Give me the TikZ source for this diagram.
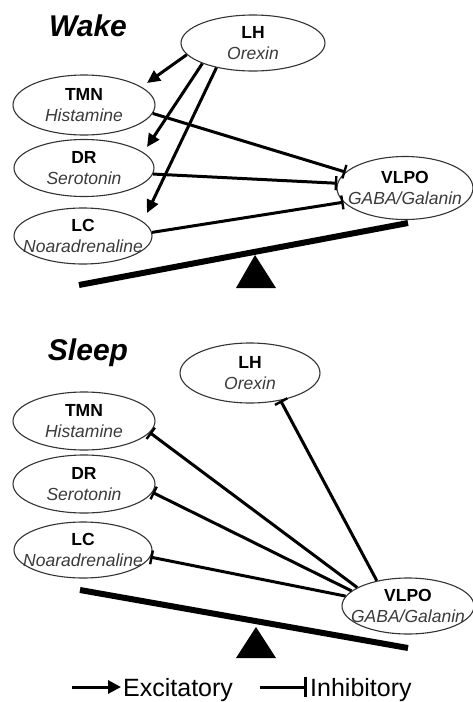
\documentclass[tikz,border=0pt]{standalone}
\usepackage{fontspec}
\setmainfont{Liberation Sans}
\usetikzlibrary{arrows.meta,shapes.geometric,calc}
\definecolor{subtxt}{HTML}{3A3A3A}
\begin{document}
\begin{tikzpicture}[x=1pt,y=-1pt,
  ellip/.style={ellipse,draw=black!80,line width=1.1pt,inner sep=0pt},
  lbl/.style={align=center,inner sep=0pt,font=\fontsize{17.5}{21}\selectfont},
  exc/.style={line width=3pt,-{Triangle[length=13pt,width=12pt]}},
  inh/.style={line width=3pt,-{Bar[width=14pt,line width=2.4pt]}},
  lever/.style={line width=6pt},
  heading/.style={inner sep=0pt,font=\fontsize{30}{30}\selectfont\bfseries\itshape},
  legendtxt/.style={inner sep=0pt,anchor=base west,font=\fontsize{25}{25}\selectfont}
]
\path[use as bounding box] (0,0) rectangle (472,702);

% ---------------- Wake ----------------
\node[heading] (wake) at (88,26) {Wake};

\node[ellip,minimum width=144pt,minimum height=56pt] (LHw) at (253,43) {};
\node[lbl] (LHwt) at (LHw.center) {\textbf{LH}\\\textcolor{subtxt}{\textit{Orexin}}};
\node[ellip,minimum width=142pt,minimum height=60pt] (TMNw) at (84,105) {};
\node[lbl] (TMNwt) at (TMNw.center) {\textbf{TMN}\\\textcolor{subtxt}{\textit{Histamine}}};
\node[ellip,minimum width=140pt,minimum height=57pt] (DRw) at (84,168) {};
\node[lbl] (DRwt) at (DRw.center) {\textbf{DR}\\\textcolor{subtxt}{\textit{Serotonin}}};
\node[ellip,minimum width=138pt,minimum height=56pt] (LCw) at (83,236) {};
\node[lbl] (LCwt) at (LCw.center) {\textbf{LC}\\\textcolor{subtxt}{\textit{Noaradrenaline}}};
\node[ellip,minimum width=136pt,minimum height=63pt] (VLPOw) at (405,188) {};
\node[lbl] (VLPOwt) at (VLPOw.center) {\textbf{VLPO}\\\textcolor{subtxt}{\textit{GABA/Galanin}}};

\draw[exc] (LHw.190) -- ($(TMNw.center)+(63,-22)$);
\draw[exc] (LHw.202) -- ($(DRw.center)+(63,-21)$);
\draw[exc] (LHw.214) -- ($(LCw.center)+(64,-23)$);

\draw[inh] (TMNw.353) -- (VLPOw.165);
\draw[inh] (DRw.355) -- (VLPOw.176);
\draw[inh] (LCw.3) -- (VLPOw.193);

\draw[lever] (79,285) -- (408,223);
\fill (255,255) -- (236,288) -- (276,288) -- cycle;

% ---------------- Sleep ----------------
\node[heading] (sleep) at (88,353) {Sleep};

\node[ellip,minimum width=140pt,minimum height=60pt] (LHs) at (250,373) {};
\node[lbl] (LHst) at (LHs.center) {\textbf{LH}\\\textcolor{subtxt}{\textit{Orexin}}};
\node[ellip,minimum width=142pt,minimum height=58pt] (TMNs) at (84,421) {};
\node[lbl] (TMNst) at (TMNs.center) {\textbf{TMN}\\\textcolor{subtxt}{\textit{Histamine}}};
\node[ellip,minimum width=142pt,minimum height=58pt] (DRs) at (84,484) {};
\node[lbl] (DRst) at (DRs.center) {\textbf{DR}\\\textcolor{subtxt}{\textit{Serotonin}}};
\node[ellip,minimum width=138pt,minimum height=56pt] (LCs) at (83,550) {};
\node[lbl] (LCst) at (LCs.center) {\textbf{LC}\\\textcolor{subtxt}{\textit{Noaradrenaline}}};
\node[ellip,minimum width=132pt,minimum height=56pt] (VLPOs) at (408,606) {};
\node[lbl] (VLPOst) at (VLPOs.center) {\textbf{VLPO}\\\textcolor{subtxt}{\textit{GABA/Galanin}}};

\draw[inh] (VLPOs.141) -- (LHs.318);
\draw[inh] (VLPOs.160) -- (TMNs.350);
\draw[inh] (VLPOs.165) -- (DRs.353);
\draw[inh] (VLPOs.171) -- (LCs.354);

\draw[lever] (80,590) -- (408,648);
\fill (256,627) -- (236,658) -- (276,658) -- cycle;

% ---------------- Legend ----------------
\coordinate (ea) at (72,687);
\coordinate (eb) at (121,687);
\draw[line width=3pt,-{Triangle[length=13pt,width=13pt]}] (ea) -- (eb);
\node[legendtxt] (etxt) at (123,696) {Excitatory};
\coordinate (ia) at (260,687);
\coordinate (ib) at (307,687);
\draw[line width=3pt,-{Bar[width=20pt,line width=3.5pt]}] (ia) -- (ib);
\node[legendtxt] (itxt) at (310,696) {Inhibitory};
\end{tikzpicture}
\end{document}
